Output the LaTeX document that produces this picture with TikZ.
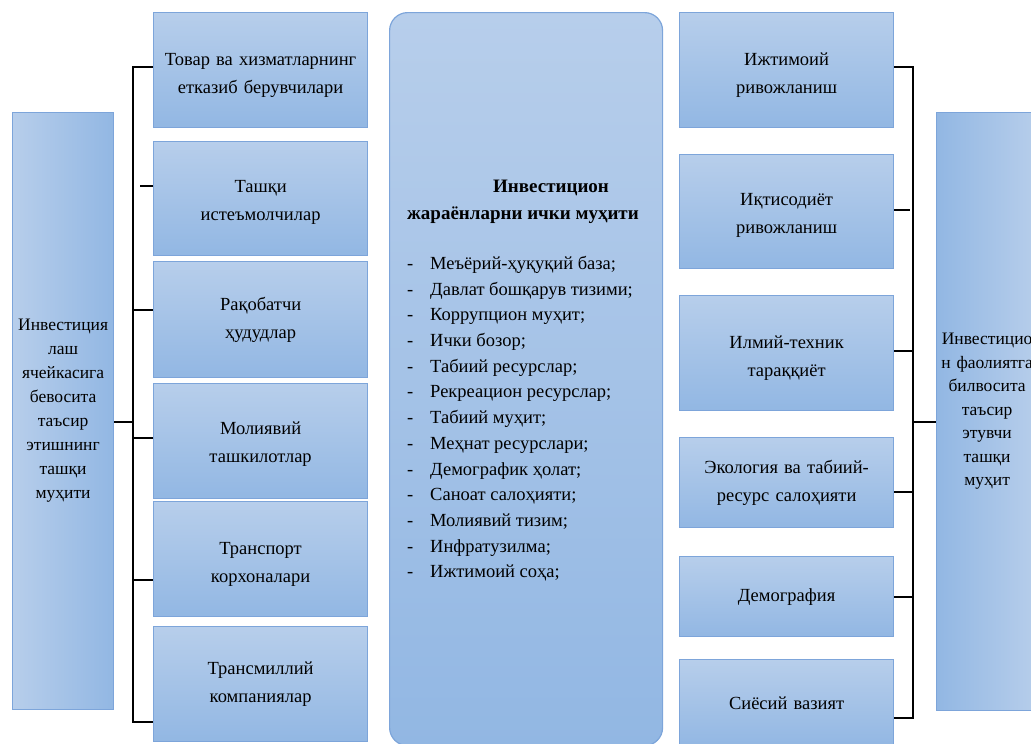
\documentclass[tikz,border=0pt]{standalone}
\usepackage{fontspec}
\setmainfont{Liberation Serif}
\usepackage{tikz}

\definecolor{boxlight}{RGB}{183,206,235}
\definecolor{boxdark}{RGB}{146,183,227}
\definecolor{boxline}{RGB}{125,165,218}

\begin{document}
\begin{tikzpicture}[x=1pt, y=-1pt,
    cell/.style={draw=boxline, line width=1.2pt, top color=boxlight, bottom color=boxdark,
        anchor=north west, inner sep=0pt, text width=214pt, align=center,
        font=\fontsize{18.5}{28}\selectfont},
    side/.style={draw=boxline, line width=1.2pt, anchor=north west, inner sep=0pt,
        text width=101pt, minimum height=597pt, align=center,
        font=\fontsize{17.5}{23.5}\selectfont},
    bus/.style={line width=2.5pt, black}]
    \useasboundingbox (0,0) rectangle (1031,744);

    \node[side, left color=boxlight, right color=boxdark, font=\fontsize{17.5}{24}\selectfont] (lft) at (12,112)
        {Инвестиция\\лаш\\ячейкасига\\бевосита\\таъсир\\этишнинг\\ташқи\\муҳити};

    \node[cell, minimum height=115pt] (c1) at (153,12) {\rule{0pt}{23pt}Товар ва хизматларнинг\\етказиб берувчилари};
    \node[cell, minimum height=114pt] (c2) at (153,141) {\rule{0pt}{19pt}Ташқи\\истеъмолчилар};
    \node[cell, minimum height=116pt] (c3) at (153,261) {Рақобатчи\\ҳудудлар};
    \node[cell, minimum height=115pt] (c4) at (153,383) {\rule{0pt}{19pt}Молиявий\\ташкилотлар};
    \node[cell, minimum height=115pt] (c5) at (153,501) {\rule{0pt}{22pt}Транспорт\\корхоналари};
    \node[cell, minimum height=115pt] (c6) at (153,626) {Трансмиллий\\компаниялар};

    \node[draw=boxline, line width=1.2pt, rounded corners=18pt, top color=boxlight, bottom color=boxdark,
        anchor=north west, minimum width=273pt, minimum height=733pt] (mid) at (389,12) {};
    \node[anchor=north west, inner sep=0pt, align=left, font=\bfseries\fontsize{19}{27}\selectfont]
        (title) at (407,180) {\hspace*{86pt}Инвестицион\\жараёнларни ички муҳити};
    \node[anchor=north west, inner sep=0pt, align=left, font=\fontsize{18.5}{25.7}\selectfont]
        (items) at (407,256) {%
        \makebox[23pt][l]{-}Меъёрий-ҳуқуқий база;\\
        \makebox[23pt][l]{-}Давлат бошқарув тизими;\\
        \makebox[23pt][l]{-}Коррупцион муҳит;\\
        \makebox[23pt][l]{-}Ички бозор;\\
        \makebox[23pt][l]{-}Табиий ресурслар;\\
        \makebox[23pt][l]{-}Рекреацион ресурслар;\\
        \makebox[23pt][l]{-}Табиий муҳит;\\
        \makebox[23pt][l]{-}Меҳнат ресурслари;\\
        \makebox[23pt][l]{-}Демографик ҳолат;\\
        \makebox[23pt][l]{-}Саноат салоҳияти;\\
        \makebox[23pt][l]{-}Молиявий тизим;\\
        \makebox[23pt][l]{-}Инфратузилма;\\
        \makebox[23pt][l]{-}Ижтимоий соҳа;};

    \node[cell, minimum height=115pt] (r1) at (679,12) {\rule{0pt}{23pt}Ижтимоий\\ривожланиш};
    \node[cell, minimum height=114pt] (r2) at (679,154) {\rule{0pt}{19pt}Иқтисодиёт\\ривожланиш};
    \node[cell, minimum height=115pt] (r3) at (679,295) {\rule{0pt}{22pt}Илмий-техник\\тараққиёт};
    \node[cell, minimum height=90pt] (r4) at (679,437) {Экология ва табиий-\\ресурс салоҳияти};
    \node[cell, minimum height=80pt] (r5) at (679,556) {Демография};
    \node[cell, minimum height=87pt] (r6) at (679,659) {Сиёсий вазият};

    \node[side, minimum height=598pt, left color=boxdark, right color=boxlight] (rgt) at (936,112)
        {Инвестицио\\н фаолиятга\\билвосита\\таъсир\\этувчи\\ташқи\\муҳит};

    \coordinate (lb) at (133,0);
    \draw[bus] (c1.west |- 0,67) -| (lb |- 0,722) -- (c6.west |- 0,722);
    \draw[bus] (c2.west |- 0,186) -- ++(-13,0);
    \foreach \n/\y in {c3/310, c4/438, c5/580}
        \draw[bus] (\n.west |- 0,\y) -- (lb |- 0,\y);
    \draw[bus] (lft.east |- 0,422) -- (lb |- 0,422);

    \coordinate (rb) at (913,0);
    \draw[bus] (r1.east |- 0,67) -| (rb |- 0,718) -- (r6.east |- 0,718);
    \draw[bus] (r2.east |- 0,210) -- ++(16,0);
    \foreach \n/\y in {r3/351, r4/492, r5/597}
        \draw[bus] (\n.east |- 0,\y) -- (rb |- 0,\y);
    \draw[bus] (rb |- 0,422) -- (rgt.west |- 0,422);
\end{tikzpicture}
\end{document}
